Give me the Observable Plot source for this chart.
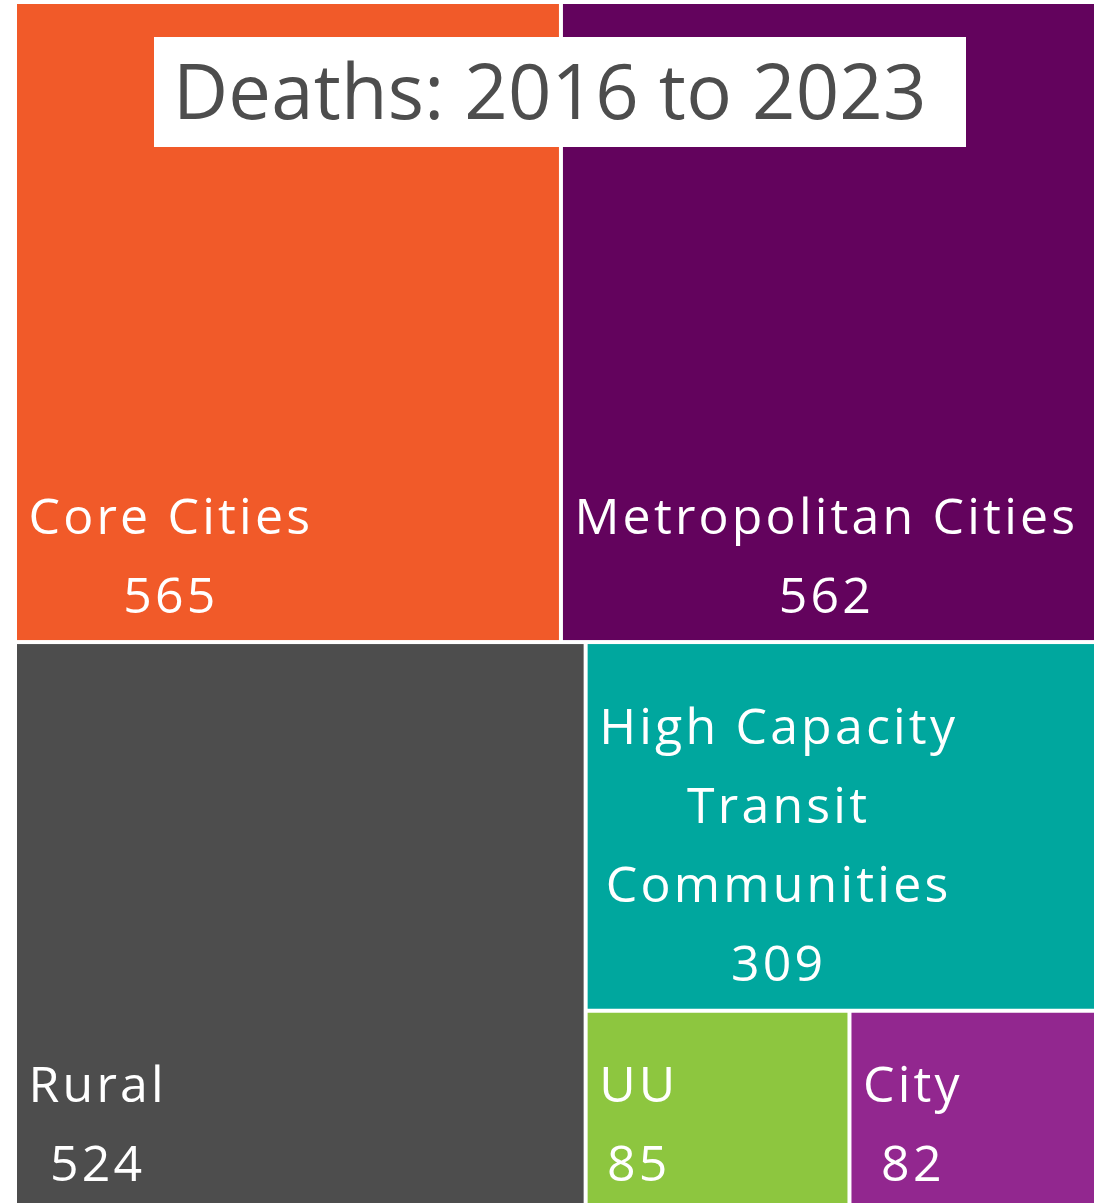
<!DOCTYPE html>
<html>
<head>
<meta charset="utf-8">
<script src="https://cdn.jsdelivr.net/npm/d3@7"></script>
<script src="https://cdn.jsdelivr.net/npm/@observablehq/plot@0.6"></script>
<style>
  html, body { margin: 0; padding: 0; background: #fff; }
  #wrap { position: relative; width: 1094px; height: 1203px; overflow: hidden; }
  #title {
    position: absolute; left: 154px; top: 37px; width: 812px; height: 110px;
    background: #fff; color: #4d4d4d; box-sizing: border-box; padding-left: 19px;
    font-family: "Open Sans", sans-serif; font-weight: 500; font-size: 76px; line-height: 106px;
    letter-spacing: 0.2px; white-space: nowrap;
  }
  #chart svg text { letter-spacing: 3.2px; }
</style>
</head>
<body>
<div id="wrap"><div id="chart"></div><div id="title">Deaths: 2016 to 2023</div></div>
<script>
const categories = ["Core Cities", "Metropolitan Cities", "Rural", "High Capacity Transit Communities", "UU", "City"];
const labelLines = ["Core Cities", "Metropolitan Cities", "Rural", "High Capacity\nTransit\nCommunities", "UU", "City"];
const deaths = [565, 562, 524, 309, 85, 82];
const colors = ["#F15A29", "#63035D", "#4D4D4D", "#00A79E", "#8DC63F", "#92278F"];

const FONT = '"Open Sans", sans-serif';
const FS = 50;
const LS = 3.2;
const W = 1085, H = 1204, X0 = 17, Y0 = 4;

const root = d3.hierarchy({children: categories.map((c, i) => ({name: c, label: labelLines[i], value: deaths[i], color: colors[i]}))})
  .sum(d => d.value ?? 0)
  .sort((a, b) => b.value - a.value);
d3.treemap().size([W, H]).paddingInner(4).tile(d3.treemapSquarify)(root);

const ctx = document.createElement("canvas").getContext("2d");
ctx.font = `400 ${FS}px ${FONT}`;
const leaves = root.leaves().map(n => {
  const lines = (n.data.label + "\n" + n.data.value).split("\n");
  const w = d3.max(lines, l => ctx.measureText(l).width + LS * (l.length - 1));
  return {x0: n.x0, x1: n.x1, y0: n.y0, y1: n.y1, color: n.data.color, text: lines.join("\n"), w};
});

const chart = Plot.plot({
  width: 1094, height: 1203,
  marginLeft: X0, marginTop: Y0, marginRight: 0, marginBottom: 0,
  x: {domain: [0, W], range: [X0, X0 + W], axis: null},
  y: {domain: [0, H], range: [Y0, Y0 + H], axis: null},
  color: {type: "identity"},
  marks: [
    Plot.rect(leaves, {x1: "x0", x2: "x1", y1: "y0", y2: "y1", fill: "color"}),
    Plot.text(leaves, {
      x: d => d.x0 + 11 + d.w / 2 + LS / 2, y: "y1", dy: -28,
      text: "text", fill: "white", fontSize: FS, fontFamily: FONT,
      lineHeight: 1.58, lineAnchor: "bottom", textAnchor: "middle"
    })
  ]
});
document.getElementById("chart").appendChild(chart);
</script>
</body>
</html>
